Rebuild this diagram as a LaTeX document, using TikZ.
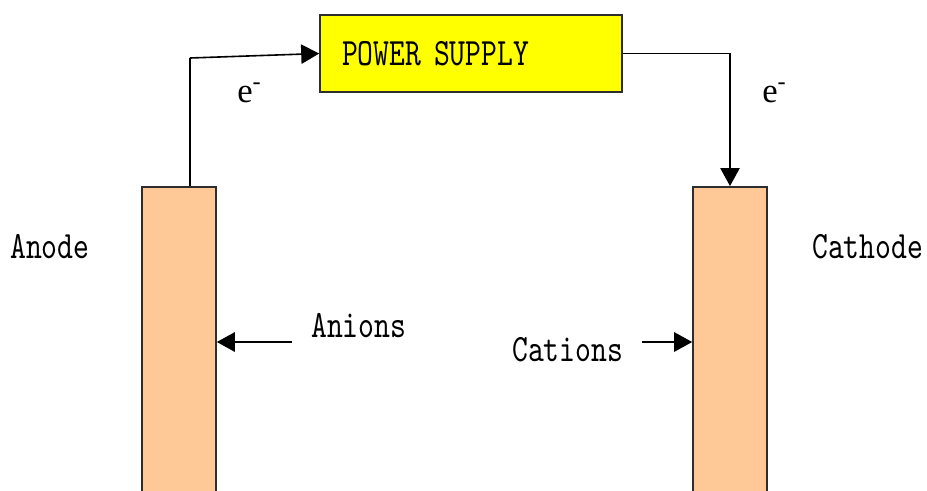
\documentclass[tikz,border=0pt]{standalone}
\usepackage{fontspec}
\usepackage{xcolor}
\usepackage{tikz}
\usetikzlibrary{arrows.meta, positioning}

\newfontfamily\labelfont{lmmono10-regular.otf}[FakeStretch=0.78]
\newfontfamily\elecfont{Liberation Serif}

\definecolor{supplyyellow}{RGB}{255,255,0}
\definecolor{electrodepeach}{RGB}{255,200,150}
\definecolor{edgegray}{RGB}{45,45,45}

\tikzset{
    electrode/.style={draw=edgegray, line width=1.2pt, fill=electrodepeach, minimum width=55.5pt, minimum height=235pt, inner sep=0pt},
    supply/.style={draw=edgegray, line width=1.2pt, fill=supplyyellow, minimum height=57.75pt, text width=193.5pt, inner xsep=16.5pt, align=left, font=\labelfont\fontsize{29}{30}\selectfont},
    lbl/.style={anchor=base west, inner sep=0pt, font=\labelfont\fontsize{29}{30}\selectfont},
    elbl/.style={anchor=base west, inner sep=0pt, font=\elecfont\fontsize{26}{28}\selectfont},
    wire/.style={line width=1.2pt},
    flow/.style={line width=1.2pt, -{Triangle[length=13.5pt, width=14.5pt]}}
}

\begin{document}
\begin{tikzpicture}[x=0.75pt, y=-0.75pt]
    \useasboundingbox (0,0) rectangle (927,490);

    \node[supply] (ps) at (471,53.5) {POWER SUPPLY};
    \node[electrode] (anode) at (179,343.5) {};
    \node[electrode] (cathode) at (730,343.5) {};

    \node[lbl] (anodetxt) at (10,258) {Anode};
    \node[lbl] (cathodetxt) at (812,258) {Cathode};
    \node[lbl] (aniontxt) at (311,337) {Anions};
    \node[lbl] (cationtxt) at (512,361) {Cations};
    \node[elbl] (eleft) at (237,102) {e\textsuperscript{-}};
    \node[elbl] (eright) at (762,102) {e\textsuperscript{-}};

    \coordinate (bendA) at (190,58);
    \coordinate (anionTail) at (292,342);
    \coordinate (cationTail) at (642,342);

    % electron flow
    \draw[wire] (anode.north -| bendA) -- (bendA);
    \draw[flow] (bendA) -- (ps.west);
    \draw[flow] (ps.east) -| (cathode.north);

    % ion flow
    \draw[flow] (anionTail) -- (anionTail -| anode.east);
    \draw[flow] (cationTail) -- (cationTail -| cathode.west);

\end{tikzpicture}
\end{document}
